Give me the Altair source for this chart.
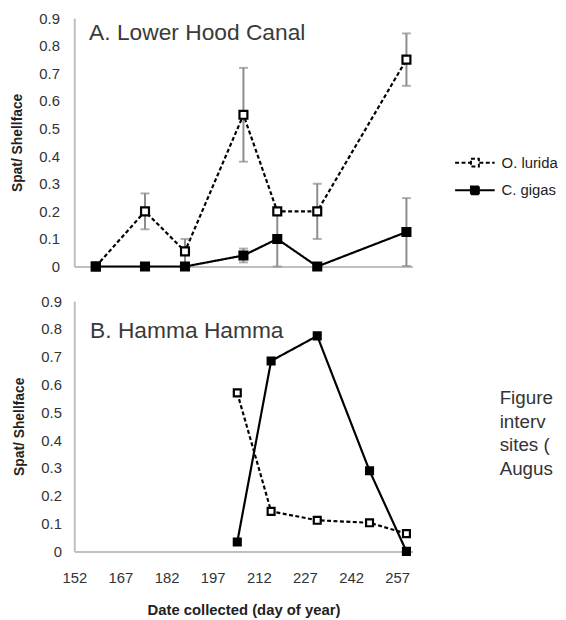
import altair as alt
import pandas as pd

FONT = "Liberation Sans"
species = ["O. lurida", "C. gigas"]

# Panel A: Lower Hood Canal
days_a = [159, 175, 188, 207, 218, 231, 260]
lurida_a = [0.0, 0.20, 0.055, 0.55, 0.20, 0.20, 0.75]
lurida_a_err = [0.0, 0.065, 0.045, 0.17, 0.0, 0.10, 0.095]
gigas_a = [0.0, 0.0, 0.0, 0.04, 0.10, 0.0, 0.125]
gigas_a_err = [0.0, 0.0, 0.0, 0.025, 0.10, 0.0, 0.123]

# Panel B: Hamma Hamma
days_b = [205, 216, 231, 248, 260]
lurida_b = [0.57, 0.144, 0.112, 0.103, 0.064]
gigas_b = [0.034, 0.685, 0.775, 0.29, 0.0]

x_ticks = [152, 167, 182, 197, 212, 227, 242, 257]
y_ticks = [0.0, 0.1, 0.2, 0.3, 0.4, 0.5, 0.6, 0.7, 0.8, 0.9]

title_a = ["A. Lower Hood Canal"]
title_b = ["B. Hamma Hamma"]
caption_lines = ["Figure", "interv", "sites (", "Augus"]


def frame(days, lur, gig, lur_err=None, gig_err=None):
    rows = []
    for i, d in enumerate(days):
        le = lur_err[i] if lur_err else 0.0
        ge = gig_err[i] if gig_err else 0.0
        rows.append({"day": d, "value": lur[i], "lo": max(lur[i] - le, 0), "hi": lur[i] + le,
                     "err": le, "species": "O. lurida"})
        rows.append({"day": d, "value": gig[i], "lo": max(gig[i] - ge, 0), "hi": gig[i] + ge,
                     "err": ge, "species": "C. gigas"})
    return pd.DataFrame(rows)


df_a = frame(days_a, lurida_a, gigas_a, lurida_a_err, gigas_a_err)
df_b = frame(days_b, lurida_b, gigas_b)

x_scale = alt.Scale(domain=[152, 262], nice=False, zero=False)
y_scale = alt.Scale(domain=[0, 0.9], nice=False)
dash_scale = alt.Scale(domain=species, range=[[4, 2.5], [1, 0]])
fill_scale = alt.Scale(domain=species, range=["white", "black"])

legend = alt.Legend(
    title=None, orient="none", legendX=394, legendY=135,
    symbolType="M-2,0H-0.45M0.45,0H2M-0.4,-0.4H0.4V0.4H-0.4Z",
    symbolSize=400, symbolStrokeWidth=2, symbolStrokeColor="black",
    labelFont=FONT, labelFontSize=15, labelColor="#222", labelOffset=16,
    rowPadding=9,
)


def y_axis(pad):
    return alt.Axis(values=y_ticks, tickCount=10, format=".1~f", ticks=False, tickSize=0,
                    grid=False, labelOverlap=False, domainColor="#bfbfbf", domainWidth=2,
                    labelFontSize=15, labelColor="#333333", labelPadding=pad,
                    title="Spat/ Shellface", titleFontSize=14, titleFontWeight="bold",
                    titlePadding=14, titleColor="#222222")


def panel(df, xaxis, yaxis, show_legend, marker_size, errors):
    base = alt.Chart(df)
    x = alt.X("day:Q", scale=x_scale, axis=xaxis)
    lg = legend if show_legend else None
    lines = base.mark_line(color="black", strokeWidth=2.2).encode(
        x=x, y=alt.Y("value:Q", scale=y_scale, axis=yaxis),
        strokeDash=alt.StrokeDash("species:N", scale=dash_scale, legend=lg),
        detail="species:N",
    )
    layers = [lines]
    if errors:
        eb = base.transform_filter("datum.err > 0")
        rules = eb.mark_rule(color="#8c8c8c", strokeWidth=2).encode(
            x=x, y=alt.Y("lo:Q", scale=y_scale, axis=yaxis), y2="hi:Q")
        caps_lo = eb.mark_tick(color="#8c8c8c", orient="horizontal", size=9, thickness=2).encode(
            x=x, y=alt.Y("lo:Q", scale=y_scale, axis=yaxis))
        caps_hi = eb.mark_tick(color="#8c8c8c", orient="horizontal", size=9, thickness=2).encode(
            x=x, y=alt.Y("hi:Q", scale=y_scale, axis=yaxis))
        layers += [rules, caps_lo, caps_hi]
    pts = base.mark_point(shape="square", filled=False, stroke="black", strokeWidth=2.2,
                          size=marker_size, opacity=1).encode(
        x=x, y=alt.Y("value:Q", scale=y_scale, axis=yaxis),
        fill=alt.Fill("species:N", scale=fill_scale, legend=lg),
    )
    layers.append(pts)
    return layers


top_xaxis = alt.Axis(labels=False, ticks=False, tickSize=0, grid=False, title=None,
                     domainColor="#bfbfbf", domainWidth=2)
bottom_xaxis = alt.Axis(values=x_ticks, ticks=False, tickSize=0, grid=False, domainColor="#bfbfbf",
                        domainWidth=2, labelFontSize=15, labelColor="#333333", labelPadding=19,
                        labelFlush=False, labelOverlap=False,
                        title="Date collected (day of year)", titleFontSize=15,
                        titleFontWeight="bold", titlePadding=18, titleColor="#222222")

ta = alt.Chart(pd.DataFrame({"t": title_a})).mark_text(
    align="left", baseline="alphabetic", font=FONT, fontSize=23, color="#3a3a3a"
).encode(x=alt.value(15), y=alt.value(21.5), text="t:N")

tb = alt.Chart(pd.DataFrame({"t": title_b})).mark_text(
    align="left", baseline="alphabetic", font=FONT, fontSize=23, color="#3a3a3a"
).encode(x=alt.value(16), y=alt.value(37.5), text="t:N")

cap = alt.Chart(pd.DataFrame({"t": ["\n".join(caption_lines)]})).mark_text(
    align="left", baseline="alphabetic", font=FONT, fontSize=19, color="#333333",
    lineBreak="\n", lineHeight=24
).encode(x=alt.value(430), y=alt.value(104), text="t:N")

top = alt.layer(*panel(df_a, top_xaxis, y_axis(15), True, 64, True), ta).properties(
    width=342, height=251)
bottom = alt.layer(*panel(df_b, bottom_xaxis, y_axis(13), False, 49, False), tb, cap).properties(
    width=342, height=253)

chart = alt.vconcat(top, bottom, spacing=19).properties(
    padding={"left": 3, "top": 0, "right": 0, "bottom": 0}
).configure_view(stroke=None).configure_axis(
    labelFont=FONT, titleFont=FONT
).configure_text(font=FONT)

chart.save("out.html", embed_options={"renderer": "svg", "actions": False})
